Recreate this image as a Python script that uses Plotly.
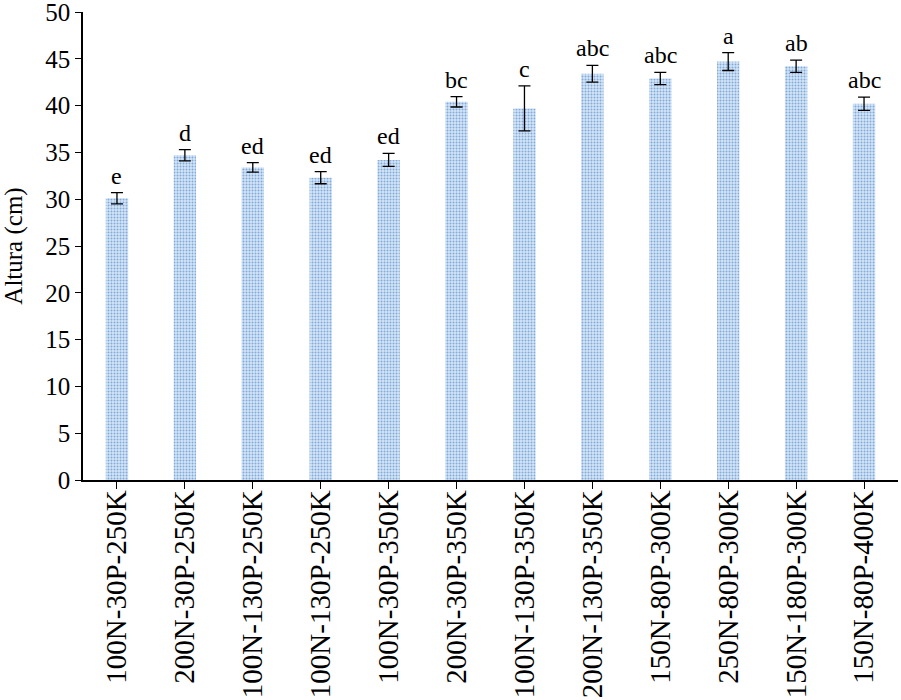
import plotly.graph_objects as go

categories = ["100N-30P-250K", "200N-30P-250K", "100N-130P-250K", "100N-130P-250K",
              "100N-30P-350K", "200N-30P-350K", "100N-130P-350K", "200N-130P-350K",
              "150N-80P-300K", "250N-80P-300K", "150N-180P-300K", "150N-80P-400K"]
heights = [30.1, 34.7, 33.4, 32.3, 34.2, 40.4, 39.7, 43.4, 42.9, 44.7, 44.2, 40.2]
errors = [0.6, 0.6, 0.5, 0.65, 0.7, 0.55, 2.4, 0.9, 0.65, 0.95, 0.65, 0.7]
letters = ["e", "d", "ed", "ed", "ed", "bc", "c", "abc", "abc", "a", "ab", "abc"]
y_ticks = [0, 5, 10, 15, 20, 25, 30, 35, 40, 45, 50]

FONT = "Liberation Serif, Times New Roman, serif"
x_idx = list(range(len(categories)))

fig = go.Figure()
fig.add_trace(go.Bar(
    x=x_idx, y=heights, width=0.33,
    marker=dict(color="#d3e4f6", line=dict(width=0),
                pattern=dict(shape=".", fgcolor="#2f6fc0", size=3, solidity=0.35,
                             bgcolor="#d3e4f6", fillmode="overlay")),
    error_y=dict(type="data", array=errors, visible=True, color="black",
                 thickness=1.3, width=6),
    showlegend=False,
))

for i, (h, e, t) in enumerate(zip(heights, errors, letters)):
    fig.add_annotation(x=i, y=h + e, text=t, showarrow=False, yanchor="bottom",
                       yshift=2, font=dict(family=FONT, size=24, color="black"))

fig.update_layout(
    width=901, height=700,
    margin=dict(l=83, r=3, t=12, b=220, autoexpand=False),
    plot_bgcolor="white", paper_bgcolor="white",
    font=dict(family=FONT, color="black"),
    bargap=0.67,
)
fig.update_xaxes(
    tickmode="array", tickvals=x_idx, ticktext=categories,
    range=[-0.5, len(categories) - 0.5],
    tickangle=-90, tickfont=dict(family=FONT, size=29, color="black"),
    showline=True, linecolor="black", linewidth=1.5,
    ticks="outside", tickson="boundaries", ticklen=7, tickcolor="black",
    ticklabelstandoff=-10,
    showgrid=False, zeroline=False, automargin=False,
)
fig.update_yaxes(
    range=[0, 50.001], tickvals=y_ticks,
    tickfont=dict(family=FONT, size=25, color="black"),
    showline=True, linecolor="black", linewidth=1.5,
    ticks="outside", ticklen=6, tickcolor="black",
    ticklabeloverflow="allow",
    showgrid=False, zeroline=False, automargin=False,
    title=dict(text="Altura (cm)", font=dict(family=FONT, size=25, color="black"), standoff=18),
)

fig.write_html("out.html", config={"displayModeBar": False},
               post_script="document.body.style.margin='0px';")
